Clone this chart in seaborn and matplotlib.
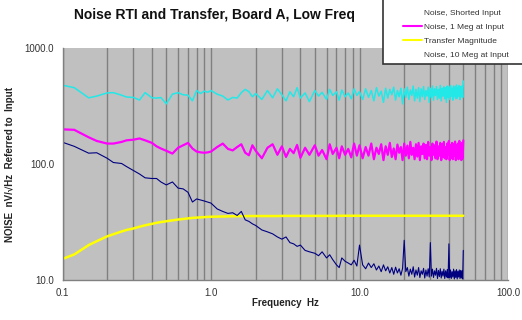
import numpy as np
import pandas as pd
import matplotlib
matplotlib.use("Agg")
import matplotlib.pyplot as plt
from matplotlib.ticker import FuncFormatter, LogLocator, NullFormatter
from matplotlib.patches import Rectangle
from matplotlib.lines import Line2D
import seaborn as sns

# ---------------- data ----------------
freq_hz = [
    0.10, 0.12, 0.15, 0.17, 0.20, 0.22, 0.25, 0.27, 0.30, 0.33, 0.36, 0.40,
    0.43, 0.46, 0.50, 0.55, 0.60, 0.65, 0.70, 0.75, 0.80, 0.85, 0.90, 0.95,
    1.0, 1.1, 1.2, 1.3, 1.4, 1.5, 1.6, 1.7, 1.8, 1.9, 2.0, 2.2, 2.4, 2.6, 2.8,
    3.0, 3.2, 3.4, 3.6, 3.8, 4.0, 4.3, 4.6, 5.0, 5.3, 5.6, 6.0, 6.3, 6.6, 7.0,
    7.3, 7.6, 8.0, 8.4, 8.8, 9.2, 9.6,
    10.0, 10.5, 11.0, 11.5, 12.0, 12.5, 13.0, 13.5, 14.0, 14.5,
    15.0, 15.5, 16.0, 16.5, 17.0, 17.5, 18.0, 18.5, 19.0, 19.5,
    20.0, 20.5, 21.0, 21.5, 22.0, 22.5, 23.0, 23.5, 24.0, 24.5,
    25.0, 25.5, 26.0, 26.5, 27.0, 27.5, 28.0, 28.5, 29.0, 29.5,
    30.0, 30.5, 31.0, 31.5, 32.0, 32.5, 33.0, 33.5, 34.0, 34.5,
    35.0, 35.5, 36.0, 36.5, 37.0, 37.5, 38.0, 38.5, 39.0, 39.5,
    40.0, 40.5, 41.0, 41.5, 42.0, 42.5, 43.0, 43.5, 44.0, 44.5,
    45.0, 45.5, 46.0, 46.5, 47.0, 47.5, 48.0, 48.5, 49.0, 49.5,
    50.0,
]

noise_shorted = [
    478, 455, 372, 385, 410, 412, 392, 378, 375, 356, 412, 372,
    370, 374, 330, 400, 412, 395, 392, 350, 430, 405, 425, 415,
    430, 400, 385, 356, 375, 370, 412, 440, 420, 380, 405, 360, 430, 372, 445,
    395, 350, 420, 380, 455, 370, 410, 345, 430, 385, 415, 360, 440, 390, 420,
    355, 435, 380, 410, 365, 445, 390,
    420, 360, 445, 375, 430, 350, 455, 385, 425, 340,
    450, 370, 440, 395, 460, 355, 430, 380, 450, 330,
    445, 375, 460, 360, 435, 390, 470, 350, 440, 370,
    455, 345, 445, 380, 465, 360, 430, 385, 460, 340,
    450, 375, 470, 355, 445, 390, 465, 360, 440, 370,
    475, 350, 450, 385, 465, 365, 455, 340, 470, 375,
    460, 360, 475, 385, 450, 355, 470, 380, 460, 365,
    480, 370, 455, 385, 475, 360, 465, 380, 470, 375,
    520,
]

noise_1meg = [
    199, 197, 170, 158, 150, 150, 155, 160, 162, 166, 160, 152,
    142, 136, 130, 123, 138, 145, 152, 136, 128, 126, 125, 126,
    128, 140, 150, 135, 131, 140, 148, 125, 119, 145, 130, 112, 138, 148, 120,
    142, 115, 135, 124, 146, 113, 138, 120, 145, 118, 132, 110, 148, 122, 138,
    112, 142, 120, 135, 114, 150, 118,
    145, 112, 140, 118, 150, 110, 138, 122, 148, 108,
    142, 120, 152, 115, 136, 110, 147, 125, 140, 108,
    150, 118, 144, 112, 155, 120, 138, 110, 148, 116,
    152, 108, 142, 122, 150, 112, 146, 110, 155, 118,
    140, 108, 150, 120, 145, 112, 156, 110, 142, 118,
    152, 108, 148, 115, 155, 112, 140, 110, 150, 120,
    158, 108, 145, 114, 152, 110, 148, 118, 156, 108,
    144, 112, 150, 110, 158, 115, 146, 108, 152, 112,
    160,
]

transfer_mag = [
    15.2, 16.6, 20.0, 21.6, 23.8, 24.8, 26.2, 27.0, 27.8, 28.8, 29.6, 30.5,
    31.1, 31.6, 32.1, 32.7, 33.2, 33.6, 34.0, 34.3, 34.5, 34.7, 34.9, 35.0,
    35.1, 35.2, 35.3, 35.4, 35.4, 35.5, 35.5, 35.5, 35.6, 35.6, 35.6, 35.6, 35.6, 35.6, 35.6,
    35.7, 35.7, 35.7, 35.7, 35.7, 35.7, 35.7, 35.7, 35.7, 35.7, 35.7, 35.7, 35.7, 35.7, 35.7,
    35.8, 35.8, 35.8, 35.8, 35.8, 35.8, 35.8,
    35.8, 35.8, 35.8, 35.8, 35.8, 35.8, 35.8, 35.8, 35.8, 35.8,
    35.8, 35.8, 35.8, 35.8, 35.8, 35.8, 35.8, 35.8, 35.8, 35.8,
    35.8, 35.8, 35.8, 35.8, 35.8, 35.8, 35.8, 35.8, 35.8, 35.8,
    35.8, 35.8, 35.8, 35.8, 35.8, 35.8, 35.8, 35.8, 35.8, 35.8,
    35.8, 35.8, 35.8, 35.8, 35.8, 35.8, 35.8, 35.8, 35.8, 35.8,
    35.8, 35.8, 35.8, 35.8, 35.8, 35.8, 35.8, 35.8, 35.8, 35.8,
    35.8, 35.8, 35.8, 35.8, 35.8, 35.8, 35.8, 35.8, 35.8, 35.8,
    35.8, 35.8, 35.8, 35.8, 35.8, 35.8, 35.8, 35.8, 35.8, 35.8,
    35.8,
]

noise_10meg = [
    154, 142, 124, 125, 112, 103, 101, 95, 88, 82, 76, 75,
    75, 70, 66, 70, 62, 61, 57, 47, 50, 49, 48, 47,
    46, 41, 39, 37.5, 38, 36, 39, 33, 32, 30.5, 29.5, 27, 26, 25, 23.5,
    22.5, 23.5, 21, 20.5, 19.5, 20, 18, 17.5, 17, 16.2, 17.5, 15.5, 16.5, 15, 13.5,
    12.8, 15.5, 14.5, 14, 13.5, 14.8, 13.2,
    20, 13.5, 12.5, 14, 12.8, 13.8, 12.2, 13.2, 11.8, 13.5,
    12, 13, 11.5, 12.8, 11.2, 12.9, 11.5, 12.5, 11, 12.6,
    22, 11.8, 12.8, 10.8, 12.4, 11.2, 13, 10.6, 12.2, 11,
    12.8, 10.5, 12, 11.2, 12.6, 10.4, 12.2, 10.8, 12.5, 10.6,
    21, 10.8, 12.4, 10.5, 12, 11, 12.6, 10.3, 12.1, 10.7,
    12.5, 10.4, 11.9, 10.8, 12.4, 10.3, 12, 10.6, 12.3, 10.4,
    20.5, 10.5, 12.2, 10.3, 11.8, 10.6, 12.4, 10.2, 12, 10.5,
    12.3, 10.2, 11.9, 10.6, 12.2, 10.3, 12.1, 10.4, 12, 10.2,
    18,
]

series_names = ["Noise, Shorted Input", "Noise, 1 Meg at Input",
                "Transfer Magnitude", "Noise, 10 Meg at Input"]
series_values = [noise_shorted, noise_1meg, transfer_mag, noise_10meg]
for v in series_values:
    assert len(v) == len(freq_hz), len(v)

x_tick_values = [0.1, 1.0, 10.0, 100.0]
y_tick_values = [10.0, 100.0, 1000.0]

# ---------------- style ----------------
colors = {"Noise, Shorted Input": "#22e8e8",
          "Noise, 1 Meg at Input": "#ff00ff",
          "Transfer Magnitude": "#ffff00",
          "Noise, 10 Meg at Input": "#000080"}
widths = {"Noise, Shorted Input": 1.1,
          "Noise, 1 Meg at Input": 1.6,
          "Transfer Magnitude": 1.8,
          "Noise, 10 Meg at Input": 0.8}

sns.set_style("white")
plt.rcParams["font.family"] = ["Liberation Sans", "DejaVu Sans"]

fig = plt.figure(figsize=(5.22, 3.20), dpi=100)
ax = fig.add_axes([62.5 / 522, 1 - 280 / 320, (508 - 62.5) / 522, (280 - 48) / 320])
ax.set_facecolor("#c0c0c0")

for name, vals in zip(series_names, series_values):
    df = pd.DataFrame({"freq": freq_hz, "value": vals})
    sns.lineplot(data=df, x="freq", y="value", ax=ax, color=colors[name],
                 lw=widths[name], estimator=None, sort=False, label=None,
                 legend=False)

ax.set_xscale("log")
ax.set_yscale("log")
ax.set_xlim(0.1, 100)
ax.set_ylim(10, 1000)
ax.set_xticks(x_tick_values)
ax.set_yticks(y_tick_values)
fmt = FuncFormatter(lambda v, p: f"{v:.1f}")
ax.xaxis.set_major_formatter(fmt)
ax.yaxis.set_major_formatter(fmt)
ax.xaxis.set_minor_locator(LogLocator(base=10, subs=np.arange(2, 10)))
ax.xaxis.set_minor_formatter(NullFormatter())
ax.yaxis.set_minor_formatter(NullFormatter())
ax.tick_params(axis="both", which="both", length=0, labelsize=7,
               labelcolor="#333333")
ax.tick_params(axis="x", pad=6)
ax.tick_params(axis="y", pad=6)
ax.grid(False)
ax.grid(True, axis="x", which="both", color="#808080", lw=1.0)
ax.set_axisbelow(True)
for s in ["top", "right"]:
    ax.spines[s].set_visible(False)
for s in ["left", "bottom"]:
    ax.spines[s].set_color("#808080")
    ax.spines[s].set_linewidth(1.0)

ax.set_xlabel("Frequency  Hz", fontsize=7, fontweight="bold", color="#222222")
ax.set_ylabel("NOISE  nV/√Hz  Referred to  Input", fontsize=7,
              fontweight="bold", color="#222222")
ax.xaxis.set_label_coords(0.5, (280 - 298) / 232)
ax.yaxis.set_label_coords((15 - 62.5) / 445.5, 0.5)

fig.text(214 / 522, 1 - 15 / 320, "Noise RTI and Transfer, Board A, Low Freq",
         ha="center", va="center", fontsize=10, fontweight="bold",
         color="#111111")

# legend box
fig.patches.append(Rectangle((383 / 522, 1 - 64 / 320), 0.4, 0.4,
                             transform=fig.transFigure, facecolor="white",
                             edgecolor="#333333", lw=1.2, zorder=5))
handles = [Line2D([], [], color=colors[n], lw=1.5) for n in series_names]
leg = fig.legend(handles, series_names, loc="upper left",
                 bbox_to_anchor=(403 / 522, 1 - 9 / 320), frameon=False,
                 fontsize=6, borderpad=0, borderaxespad=0, handlelength=2.3,
                 handletextpad=0.2, labelspacing=0.75, labelcolor="#333333")
leg.set_zorder(6)
leg.legend_handles[0].set_visible(False)
leg.legend_handles[3].set_visible(False)

fig.savefig("out.png", dpi=100, facecolor="white")
